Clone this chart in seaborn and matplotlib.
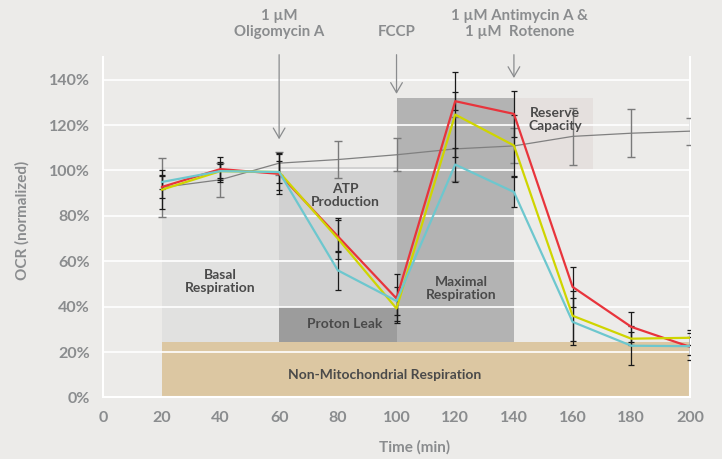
import numpy as np
import pandas as pd
import matplotlib.pyplot as plt
import seaborn as sns
from matplotlib.patches import Rectangle

time = [20, 40, 60, 80, 100, 120, 140, 160, 180, 200]

control = [92.5, 95.9, 103.2, 104.8, 106.9, 109.5, 110.8, 115.0, 116.4, 117.3]
control_err = [13, 7.5, 5, 8, 7.3, 14, 7.7, 12.5, 10.5, 6]

red = [92.7, 100.6, 98.5, 71.0, 43.6, 130.5, 124.9, 48.7, 31.1, 22.3]
red_err = [5, 5.5, 9, 7, 11, 4, 10, 8.8, 6.5, 6]
yellow = [91.5, 99.7, 99.3, 70.0, 39.2, 124.6, 111.0, 36.0, 25.9, 26.3]
yellow_err = [8.6, 4, 8, 9, 5.5, 18.6, 13.5, 11, 3, 3.4]
cyan = [94.9, 99.7, 99.3, 56.0, 42.5, 102.6, 90.5, 33.3, 22.8, 22.6]
cyan_err = [3, 3, 5, 8.7, 6, 7.5, 6.6, 10.4, 8.5, 4]

# shaded regions: label, x0, x1, y0, y1, colour
regions = [
    ("Non-Mitochondrial Respiration", 20, 200, 0, 24.5, "#DCC7A2"),
    ("Basal\nRespiration", 20, 60, 24.5, 101.5, "#E1E1E0"),
    ("ATP\nProduction", 60, 100, 40, 101.5, "#D1D1D1"),
    ("Proton Leak", 60, 100, 24.5, 40, "#9C9C9C"),
    ("Maximal\nRespiration", 100, 140, 24.5, 132, "#B3B3B3"),
    ("Reserve\nCapacity", 140, 167, 100, 132, "#E5E0DE"),
]
label_pos = [(96, 10), (40, 51), (82.5, 89), (82.5, 32.3), (122, 48), (154, 122.5)]

injections = ["1 µM\nOligomycin A", "FCCP", "1 µM Antimycin A &\n1 µM  Rotenone"]
inj_x = [60, 100, 140]
inj_tip = [112.5, 132.5, 139.5]

bg = "#ECEBE9"
grey_txt = "#8A8C8E"

sns.set_theme(style="white", rc={"axes.facecolor": bg, "figure.facecolor": bg})
plt.rcParams["font.family"] = ["Lato", "DejaVu Sans"]

fig = plt.figure(figsize=(7.22, 4.59), dpi=100)
ax = fig.add_axes([0.1427, 0.134, 0.813, 0.742])

for (lab, x0, x1, y0, y1, c), (tx, ty) in zip(regions, label_pos):
    ax.add_patch(Rectangle((x0, y0), x1 - x0, y1 - y0, color=c, lw=0, zorder=1))
    ax.text(tx, ty, lab, ha="center", va="center", fontsize=10,
            color="#4A4A4A", fontweight="bold", zorder=5, linespacing=1.15)

df = pd.DataFrame({
    "time": time * 3,
    "ocr": red + yellow + cyan,
    "series": ["red"] * 10 + ["yellow"] * 10 + ["cyan"] * 10,
})

ax.plot(time, control, color="#808080", lw=0.9, zorder=3)
ax.errorbar(time, control, yerr=control_err, fmt="none", ecolor="#7A7A7A",
            elinewidth=1, capsize=3, capthick=1, zorder=3)

for vals, err in [(red, red_err), (yellow, yellow_err), (cyan, cyan_err)]:
    ax.errorbar(time, vals, yerr=err, fmt="none", ecolor="#1A1A1A",
                elinewidth=0.9, capsize=2.2, capthick=0.9, zorder=4)

sns.lineplot(data=df, x="time", y="ocr", hue="series", ax=ax, lw=1.6,
             palette={"red": "#E8343C", "yellow": "#CFD500", "cyan": "#6DC7CE"},
             legend=False, zorder=4, estimator=None)

for lab, x, tip in zip(injections, inj_x, inj_tip):
    ax.annotate("", xy=(x, tip), xytext=(x, 150 + 2.2),
                arrowprops=dict(arrowstyle="->,head_length=0.6,head_width=0.35",
                                color="#8A8C8E", lw=0.9),
                annotation_clip=False)
    ax.text(x if x != 140 else 142, 158, lab, ha="center", va="bottom",
            fontsize=10.8, color=grey_txt, fontweight="bold",
            linespacing=1.15, clip_on=False)

ax.set_xlim(0, 200)
ax.set_ylim(0, 150)
ax.set_xticks(range(0, 201, 20))
ax.set_yticks(range(0, 141, 20))
ax.set_yticklabels([f"{v}%" for v in range(0, 141, 20)])
ax.grid(axis="y", color="white", lw=1.2)
ax.set_axisbelow("line")
ax.spines["top"].set_visible(False)
for s in ["left", "bottom", "right"]:
    ax.spines[s].set_color("white")
    ax.spines[s].set_linewidth(1.5)
ax.tick_params(colors="white", length=6, width=1.2, labelsize=11.5, labelcolor=grey_txt)
for t in ax.get_xticklabels() + ax.get_yticklabels():
    t.set_fontweight("bold")

ax.set_xlabel("Time (min)", fontsize=11, color=grey_txt, fontweight="bold")
ax.xaxis.set_label_coords(0.53, -0.125)
ax.set_ylabel("OCR (normalized)", fontsize=11, color=grey_txt, fontweight="bold")
ax.yaxis.set_label_coords(-0.125, 0.52)

plt.savefig("out.png", dpi=100, facecolor=bg)
